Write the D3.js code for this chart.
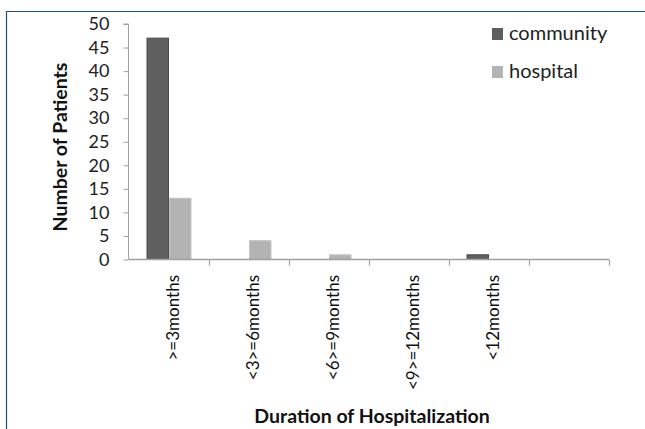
<!DOCTYPE html>
<html><head><meta charset="utf-8">
<script src="https://cdn.jsdelivr.net/npm/d3@7"></script>
<style>
html,body{margin:0;padding:0;background:#fff;}
svg{display:block;}
text{font-family:Lato,"Open Sans",sans-serif;}
</style></head>
<body>
<svg id="c" width="645" height="429"></svg>
<script>
const categories = [">=3months", "<3>=6months", "<6>=9months", "<9>=12months", "<12months", ""];
const seriesNames = ["community", "hospital"];
const community = [47, 0, 0, 0, 1, 0];
const hospital = [13, 4, 1, 0, 0, 0];
const yTicks = [0, 5, 10, 15, 20, 25, 30, 35, 40, 45, 50];
const colors = {community: "#5f5f5f", hospital: "#b3b3b3"};
const strokes = {community: "#4d4d4d", hospital: "#c4c4c4"};

const svg = d3.select("#c");
// frame
svg.append("path").attr("d", "M6.5,429 L6.5,11.5 L645,11.5")
  .attr("fill", "none").attr("stroke", "#1f4e79").attr("stroke-width", 1.2);

const x = d3.scaleBand().domain(d3.range(categories.length)).range([129, 609]).paddingInner(0).paddingOuter(0);
const xs = d3.scaleBand().domain(seriesNames).range([0, x.bandwidth()]).paddingInner(0).paddingOuter(0.778);
const y = d3.scaleLinear().domain([0, 50]).range([259.5, 24]);

const data = categories.map((c, i) => ({i, community: community[i], hospital: hospital[i]}));

const g = svg.append("g");
g.selectAll("g.grp").data(data).join("g").attr("class", "grp")
  .attr("transform", d => `translate(${x(d.i)},0)`)
  .selectAll("rect").data(d => seriesNames.map(s => ({s, v: d[s]})).filter(e => e.v > 0)).join("rect")
  .attr("x", e => xs(e.s) + 0.5).attr("width", xs.bandwidth() - 1)
  .attr("y", e => y(e.v)).attr("height", e => y(0) - y(e.v))
  .attr("fill", e => colors[e.s]).attr("stroke", e => strokes[e.s]).attr("stroke-width", 1);

// y axis
const yAxis = d3.axisLeft(y).tickValues(yTicks).tickSize(5).tickPadding(14);
const ya = svg.append("g").attr("transform", "translate(128.5,0)").call(yAxis);
ya.select(".domain").attr("stroke", "#a0a0a0").attr("d", `M-5,${y(50)}H0V${y(0)}`);
ya.selectAll(".tick line").attr("stroke", "#a0a0a0");
ya.selectAll(".tick text").attr("font-size", 18).attr("fill", "#222").style("font-family", "Lato, sans-serif");

// x axis
const xa = svg.append("g");
xa.append("line").attr("x1", x.range()[0]).attr("x2", x.range()[1]).attr("y1", y(0)).attr("y2", y(0))
  .attr("stroke", "#a0a0a0").attr("stroke-width", 1.5);
const bounds = categories.map((c, i) => x(i)).concat([x.range()[1]]);
xa.selectAll("line.t").data(bounds.slice(1)).join("line").attr("class", "t")
  .attr("x1", d => d + 0.5).attr("x2", d => d + 0.5).attr("y1", y(0)).attr("y2", y(0) + 6)
  .attr("stroke", "#a0a0a0").attr("stroke-width", 1.2);
xa.selectAll("text").data(categories.map((c, i) => ({c, i}))).join("text")
  .attr("transform", d => `translate(${x(d.i) + x.bandwidth() / 2 + 4},275) rotate(-90)`)
  .attr("text-anchor", "end").attr("dy", "0.35em")
  .attr("font-size", 17).attr("fill", "#111").text(d => d.c);

// axis titles
svg.append("text").attr("transform", "translate(60,147) rotate(-90)")
  .attr("text-anchor", "middle").attr("dy", "0.35em")
  .attr("font-size", 19.5).attr("font-weight", "bold").attr("fill", "#111").text("Number of Patients");
svg.append("text").attr("x", 372).attr("y", 423)
  .attr("text-anchor", "middle")
  .attr("font-size", 19.5).attr("font-weight", "bold").attr("fill", "#111").text("Duration of Hospitalization");

// legend
const leg = svg.append("g");
seriesNames.forEach((s, i) => {
  const ly = 40 + i * 38;
  leg.append("rect").attr("x", 492).attr("y", ly - 12).attr("width", 11).attr("height", 12)
    .attr("fill", colors[s]);
  leg.append("text").attr("x", 509).attr("y", ly)
    .attr("font-size", 20).attr("fill", "#222").text(s);
});
</script>
</body></html>
